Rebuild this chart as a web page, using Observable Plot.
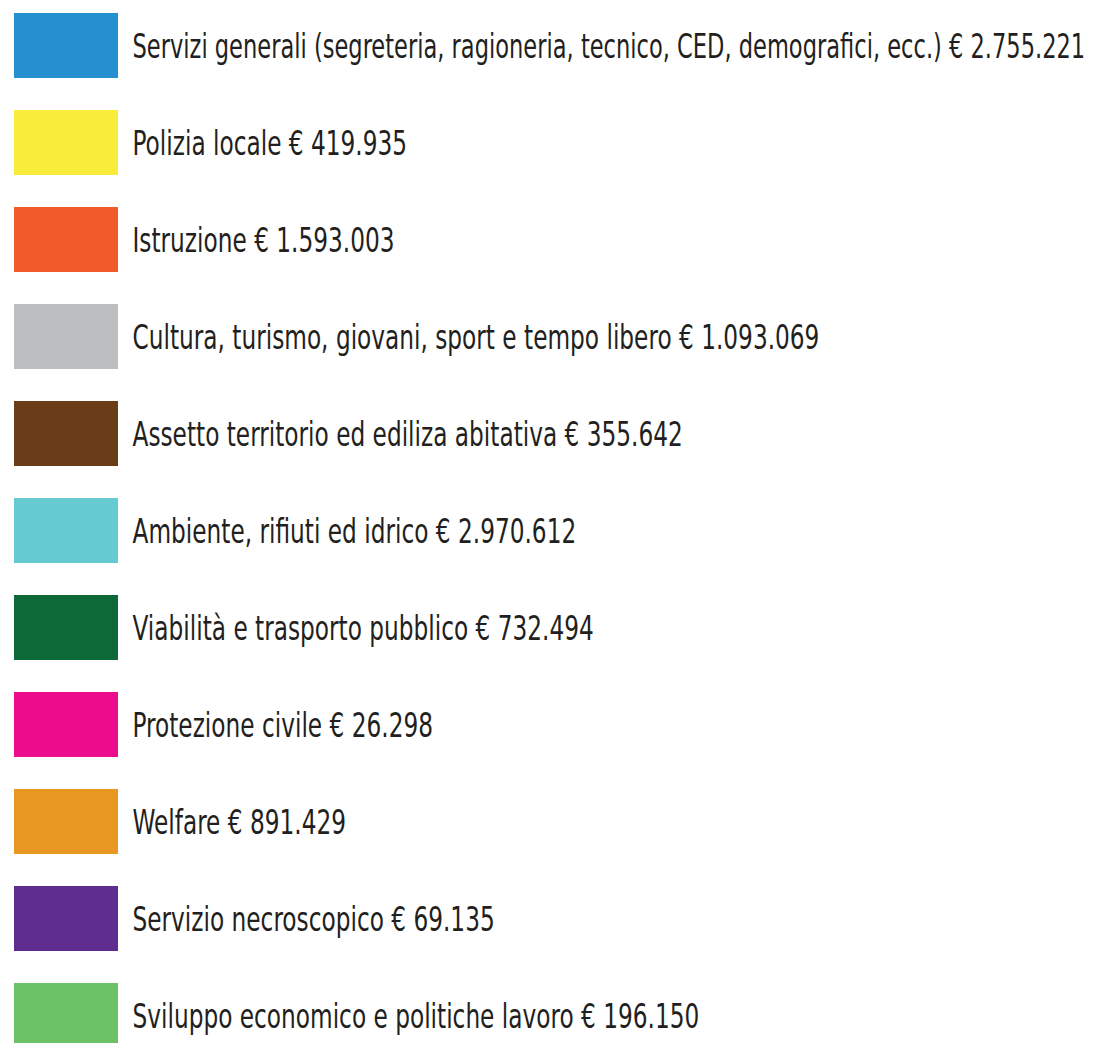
<!DOCTYPE html>
<html>
<head>
<meta charset="utf-8">
<script src="https://cdn.jsdelivr.net/npm/d3@7"></script>
<script src="https://cdn.jsdelivr.net/npm/@observablehq/plot@0.6"></script>
<style>
  html, body { margin: 0; padding: 0; background: #fff; overflow: hidden; }
</style>
</head>
<body>
<div id="chart"></div>
<script>
const categories = [
  "Servizi generali (segreteria, ragioneria, tecnico, CED, demografici, ecc.)",
  "Polizia locale",
  "Istruzione",
  "Cultura, turismo, giovani, sport e tempo libero",
  "Assetto territorio ed ediliza abitativa",
  "Ambiente, rifiuti ed idrico",
  "Viabilità e trasporto pubblico",
  "Protezione civile",
  "Welfare",
  "Servizio necroscopico",
  "Sviluppo economico e politiche lavoro"
];
const amounts = [2755221, 419935, 1593003, 1093069, 355642, 2970612, 732494, 26298, 891429, 69135, 196150];
const colors = ["#2490d0", "#f9ec3b", "#f15a2b", "#bcbec0", "#683d17", "#65cad2", "#0d6938", "#ec0c8c", "#e99723", "#5f2d8f", "#6cc267"];

const fmt = v => "€ " + d3.format(",")(v).replace(/,/g, ".");
const data = categories.map((c, i) => ({
  category: c,
  amount: amounts[i],
  color: colors[i],
  label: c + " " + fmt(amounts[i])
}));

const W = 1102, H = 1043;
const plot = Plot.plot({
  width: W,
  height: H,
  margin: 0,
  style: { background: "#fff", fontFamily: "'DejaVu Sans Condensed', 'DejaVu Sans', sans-serif" },
  x: { domain: [0, W], range: [0, W], axis: null },
  y: { type: "band", domain: categories, range: [9, 1053], paddingInner: 0.325, paddingOuter: 0, axis: null },
  color: { type: "identity" },
  marks: [
    Plot.barX(data, { x1: () => 14, x2: () => 118, y: "category", fill: "color" }),
    Plot.text(data, {
      x: () => 132, y: "category", text: "label",
      textAnchor: "start", fontSize: 34, fill: "#231f20", dy: 1
    })
  ]
});
document.getElementById("chart").append(plot);
// condense the glyphs horizontally (the reference uses a narrow typeface), fitting inside the frame
const maxWidth = W - 132 - 17;
d3.select(plot).selectAll("g[aria-label='text'] text").each(function () {
  const natural = this.getComputedTextLength();
  const s = Math.min(0.76, maxWidth / natural);
  const t = this.getAttribute("transform") || "";
  this.setAttribute("transform", t + ` scale(${s},1)`);
});
</script>
</body>
</html>
